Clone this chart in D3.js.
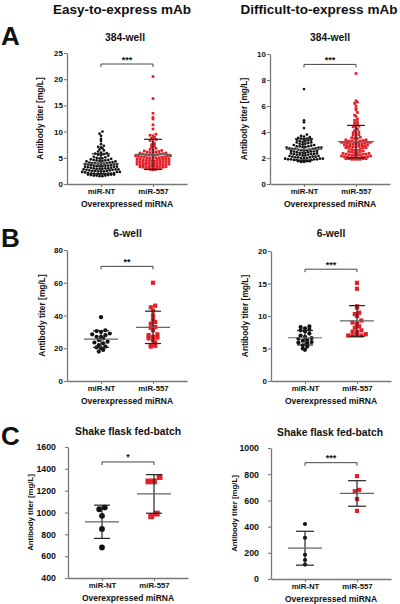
<!DOCTYPE html>
<html><head><meta charset="utf-8">
<script src="https://cdn.jsdelivr.net/npm/d3@7"></script>
<style>
body{margin:0;background:#fff}
svg{display:block}
text{font-family:Arial,"Liberation Sans",Helvetica,sans-serif;font-weight:bold;fill:#111}
</style>
</head><body>
<svg id="chart" width="400" height="604"></svg>
<script>
// ---------------- data ----------------
const groups = ["miR-NT", "miR-557"];
const columnTitles = ["Easy-to-express mAb", "Difficult-to-express mAb"];
const panelLetters = ["A", "B", "C"];
const panelTitles = ["384-well", "384-well", "6-well", "6-well", "Shake flask fed-batch", "Shake flask fed-batch"];
const yAxisLabel = "Antibody titer [mg/L]";
const xAxisLabel = "Overexpressed miRNA";

// A: 384-well, easy-to-express
const aEasyNT = [10.0, 9.6, 9.2, 8.6, 8.2, 7.6, 7.3, 7.1, 7.0, 6.8, 6.6, 6.4, 6.2, 6.0, 5.9, 5.8, 5.7, 5.6, 5.5, 5.4,
  5.2, 5.1, 5.0, 4.9, 4.9, 4.8,
  4.7, 4.6, 4.6, 4.5, 4.5, 4.4, 4.4, 4.3, 4.3, 4.2,
  4.1, 4.1, 4.0, 4.0, 4.0, 3.9, 3.9, 3.9, 3.8, 3.8, 3.8, 3.7,
  3.6, 3.6, 3.5, 3.5, 3.5, 3.4, 3.4, 3.4, 3.3, 3.3, 3.3, 3.2,
  3.1, 3.1, 3.0, 3.0, 3.0, 2.9, 2.9, 2.9, 2.8, 2.8, 2.8, 2.7, 2.7,
  2.6, 2.6, 2.5, 2.5, 2.5, 2.4, 2.4, 2.4, 2.3, 2.3, 2.3, 2.2,
  2.1, 2.1, 2.0, 2.0, 2.0, 2.0, 1.9, 1.9, 1.9, 1.9, 1.8, 1.8, 1.8, 1.7,
  1.7, 1.6, 1.6, 1.6, 1.5, 1.5];
const aEasy557 = [20.5, 16.3, 13.5, 12.7, 12.4, 11.3, 10.5, 9.5, 9.3, 9.2, 8.9, 8.7, 8.5, 8.3, 8.0, 7.7, 7.5, 7.2, 7.0, 6.8, 6.6, 6.5,
  6.4, 6.3, 6.2, 6.1, 6.1, 6.0, 6.0, 5.9, 5.9, 5.8,
  5.7, 5.7, 5.6, 5.6, 5.5, 5.5, 5.5, 5.4, 5.4, 5.3, 5.3, 5.2, 5.2,
  5.1, 5.1, 5.0, 5.0, 5.0, 4.9, 4.9, 4.8, 4.8, 4.8, 4.7, 4.7, 4.6,
  4.6, 4.5, 4.5, 4.5, 4.4, 4.4, 4.3, 4.3, 4.3, 4.2, 4.2, 4.1, 4.1,
  4.0, 4.0, 4.0, 3.9, 3.9, 3.8, 3.8, 3.8, 3.7, 3.7, 3.6, 3.6, 3.6,
  3.5, 3.5, 3.4, 3.4, 3.3, 3.3, 3.2, 3.2, 3.1, 3.1, 3.0,
  3.0, 2.9, 2.9, 2.8, 2.8, 2.7];
// A: 384-well, difficult-to-express
const aDiffNT = [7.3, 4.9, 4.75, 4.3, 3.8, 3.7, 3.65, 3.6, 3.55, 3.5, 3.5, 3.45, 3.4, 3.4, 3.35, 3.3, 3.3, 3.25, 3.2, 3.2, 3.15, 3.1, 3.1, 3.05, 3.0, 3.0,
  2.95, 2.9, 2.9, 2.9, 2.85, 2.85, 2.8, 2.8, 2.8, 2.75, 2.75, 2.7, 2.7, 2.7,
  2.65, 2.65, 2.6, 2.6, 2.6, 2.55, 2.55, 2.5, 2.5, 2.5, 2.45, 2.45,
  2.4, 2.4, 2.4, 2.35, 2.35, 2.3, 2.3, 2.3, 2.25, 2.25, 2.25,
  2.2, 2.2, 2.15, 2.15, 2.1, 2.1, 2.1, 2.05, 2.05, 2.05, 2.0, 2.0, 2.0,
  1.95, 1.95, 1.95, 1.9, 1.9, 1.9, 1.9, 1.85, 1.85, 1.85, 1.8, 1.8, 1.8, 1.8, 1.75, 1.75, 1.75, 1.7, 1.7];
const aDiff557 = [8.5, 6.4, 6.3, 6.2, 6.0, 5.8, 5.7, 5.5, 5.3, 5.2, 5.0, 4.9, 4.8, 4.7, 4.6, 4.5, 4.45, 4.4, 4.3, 4.2, 4.1, 4.0, 3.95, 3.9, 3.8, 3.75, 3.7, 3.6, 3.55, 3.5, 3.5, 3.4, 3.4,
  3.35, 3.3, 3.3, 3.3, 3.25, 3.25, 3.2, 3.2, 3.2, 3.2, 3.15, 3.15, 3.1, 3.1, 3.1, 3.05, 3.05, 3.0, 3.0,
  2.95, 2.95, 2.9, 2.9, 2.9, 2.85, 2.85, 2.8, 2.8, 2.8, 2.75, 2.7,
  2.65, 2.6, 2.6, 2.55, 2.5, 2.5, 2.45,
  2.4, 2.4, 2.35, 2.35, 2.3, 2.3, 2.3, 2.25, 2.25, 2.2, 2.2, 2.2, 2.15, 2.15, 2.1, 2.1,
  2.05, 2.05, 2.05, 2.0, 2.0, 2.0, 2.0, 1.95, 1.95, 1.95, 1.95, 1.9, 1.9, 1.9, 1.9];
// B: 6-well
const bEasyNT = [39, 31, 30.5, 30, 29, 28.5, 28, 27, 27, 26, 25, 24, 23.5, 23, 22, 21, 20.5, 20, 19, 18];
const bEasy557 = [60, 46, 45, 43, 40, 37.5, 36, 35, 33, 32.5, 31, 28.5, 28, 27, 26.5, 26, 25, 23.5, 22, 21.5, 21];
const bDiffNT = [8.4, 8.3, 8.1, 7.9, 7.8, 7.6, 7.3, 7.0, 6.8, 6.6, 6.5, 6.3, 6.2, 6.0, 5.9, 5.8, 5.5, 5.3, 5.0, 4.8];
const bDiff557 = [15.1, 14.2, 11.5, 11.3, 10.5, 10.3, 10.0, 9.3, 9.0, 8.8, 8.4, 8.2, 7.8, 7.6, 7.5, 7.2, 7.0, 7.0, 7.0, 7.0];
// C: shake flask fed-batch
const cEasyNT = [1045, 1030, 970, 850, 680];
const cEasy557 = [1325, 1285, 1285, 990, 965];
const cDiffNT = [420, 315, 185, 145, 110];
const cDiff557 = [785, 680, 670, 610, 520];

// axis tick values
const ticksA1 = [0, 5, 10, 15, 20, 25];
const ticksA2 = [0, 2, 4, 6, 8, 10];
const ticksB1 = [0, 20, 40, 60, 80];
const ticksB2 = [0, 5, 10, 15, 20];
const ticksC1 = [400, 600, 800, 1000, 1200, 1400, 1600];
const ticksC2 = [0, 200, 400, 600, 800, 1000];

// significance
const sigLabels = ["***", "***", "**", "***", "*", "***"];
const sigLevels = [22.9, 9.2, 70, 17.2, 1463, 888];

// ---------------- layout ----------------
const svg = d3.select("#chart");
const RED = "#e41e26", BLACK = "#111";

const layout = [
  {ax: 67, top: 53, bot: 184, tx: 125, ty: 41, lx: 39.5, r: 1.35, dx: 2.9, cap: 9, meanW: 18, tf: 8, tp: 1, lf: 8.4},
  {ax: 270, top: 54, bot: 184, tx: 330, ty: 41, lx: 243.5, r: 1.35, dx: 2.9, cap: 9, meanW: 18, tf: 8, tp: 1, lf: 8.4},
  {ax: 67, top: 250, bot: 381, tx: 127.5, ty: 237, lx: 41.5, r: 2.1, dx: 4.4, cap: 8, meanW: 17, tf: 8, tp: 1, lf: 8.4},
  {ax: 271, top: 251, bot: 381, tx: 331, ty: 237, lx: 244.5, r: 2.1, dx: 4.4, cap: 8, meanW: 17, tf: 8, tp: 1, lf: 8.4},
  {ax: 68, top: 447, bot: 578, tx: 128, ty: 435, lx: 30, r: 2.9, dx: 5.6, cap: 8, meanW: 17, tf: 8.8, tp: 9, lf: 7.8},
  {ax: 271, top: 448, bot: 579, tx: 330, ty: 436, lx: 234, r: 2.1, dx: 4.4, cap: 9, meanW: 17, tf: 8.8, tp: 9, lf: 7.8}
];
const panelData = [[aEasyNT, aEasy557], [aDiffNT, aDiff557], [bEasyNT, bEasy557], [bDiffNT, bDiff557], [cEasyNT, cEasy557], [cDiffNT, cDiff557]];
const panelTicks = [ticksA1, ticksA2, ticksB1, ticksB2, ticksC1, ticksC2];

// headers
svg.append("text").attr("x", 122).attr("y", 14).attr("text-anchor", "middle").attr("font-size", 13.5).text(columnTitles[0]);
svg.append("text").attr("x", 319).attr("y", 14).attr("text-anchor", "middle").attr("font-size", 13.5).text(columnTitles[1]);
const letterY = [45, 247, 445];
panelLetters.forEach((L, i) => svg.append("text").attr("x", 1).attr("y", letterY[i]).attr("font-size", 26).text(L));

panelData.forEach((pd, i) => {
  const L = layout[i];
  const ticks = panelTicks[i];
  const g = svg.append("g");
  const y = d3.scaleLinear().domain(d3.extent(ticks)).range([L.bot, L.top]);
  const x = d3.scalePoint().domain(groups).range([L.ax, L.ax + 120]).padding(((120 / 52) - 1) / 2);

  // title
  g.append("text").attr("x", L.tx).attr("y", L.ty).attr("text-anchor", "middle").attr("font-size", 10.3).text(panelTitles[i]);

  // axes
  const yAx = g.append("g").attr("transform", `translate(${L.ax},0)`)
    .call(d3.axisLeft(y).tickValues(ticks).tickFormat(d3.format("d")).tickSize(3).tickSizeOuter(0).tickPadding(L.tp));
  const xAx = g.append("g").attr("transform", `translate(0,${L.bot})`)
    .call(d3.axisBottom(x).tickSize(3).tickSizeOuter(0).tickPadding(1));
  [yAx, xAx].forEach(a => {
    a.select(".domain").attr("stroke", "#777").attr("stroke-width", 1.3);
    a.selectAll(".tick line").attr("stroke", "#777").attr("stroke-width", 1.1);
    a.selectAll("text").attr("fill", "#111").attr("font-family", "Arial, 'Liberation Sans', sans-serif").attr("font-weight", "bold");
  });
  yAx.selectAll("text").attr("font-size", L.tf);
  xAx.selectAll("text").attr("font-size", 7.8);

  // axis labels
  g.append("text").attr("transform", `translate(${L.lx},${(L.top + L.bot) / 2}) rotate(-90)`)
    .attr("text-anchor", "middle").attr("dominant-baseline", "central").attr("font-size", L.lf).text(yAxisLabel);
  g.append("text").attr("x", L.ax + 60).attr("y", L.bot + 23).attr("text-anchor", "middle").attr("font-size", 8.5).text(xAxisLabel);

  // points (scatter dot plot with row binning)
  pd.forEach((vals, gi) => {
    const cx = x(groups[gi]);
    const col = gi === 0 ? BLACK : RED;
    const rowH = L.r * 2;
    const sorted = vals.slice().sort((a, b) => a - b);
    const bins = d3.groups(sorted, v => Math.round((L.bot - y(v)) / rowH));
    const pts = [];
    bins.forEach(([k, arr]) => {
      const n = arr.length;
      arr.forEach((v, j) => {
        let off;
        if (n % 2 === 1) off = j === 0 ? 0 : (j % 2 === 1 ? -1 : 1) * Math.ceil(j / 2);
        else off = (j % 2 === 0 ? -1 : 1) * (Math.floor(j / 2) + 0.5);
        pts.push({v, px: cx + off * L.dx});
      });
    });
    if (gi === 0) {
      g.append("g").selectAll("circle").data(pts).join("circle")
        .attr("cx", d => d.px).attr("cy", d => y(d.v)).attr("r", L.r).attr("fill", col);
    } else {
      g.append("g").selectAll("rect").data(pts).join("rect")
        .attr("x", d => d.px - L.r).attr("y", d => y(d.v) - L.r)
        .attr("width", L.r * 2).attr("height", L.r * 2).attr("fill", col);
    }
    // mean & SD
    const m = d3.mean(vals), sd = d3.deviation(vals);
    const eg = g.append("g").attr("fill", "none");
    eg.append("line").attr("x1", cx).attr("x2", cx).attr("y1", y(m - sd)).attr("y2", y(m + sd)).attr("stroke", "#222").attr("stroke-width", 1.2);
    [m - sd, m + sd].forEach(v => eg.append("line").attr("x1", cx - L.cap).attr("x2", cx + L.cap)
      .attr("y1", y(v)).attr("y2", y(v)).attr("stroke", "#222").attr("stroke-width", 1.2));
    eg.append("line").attr("x1", cx - L.meanW).attr("x2", cx + L.meanW).attr("y1", y(m)).attr("y2", y(m))
      .attr("stroke", "#666").attr("stroke-width", 1.2);
  });

  // significance bracket
  const by = y(sigLevels[i]);
  const x0 = x(groups[0]), x1 = x(groups[1]);
  g.append("path").attr("d", `M${x0},${by + 3}V${by}H${x1}V${by + 3}`).attr("fill", "none").attr("stroke", "#444").attr("stroke-width", 1);
  g.append("text").attr("x", (x0 + x1) / 2).attr("y", by - 1.5).attr("text-anchor", "middle").attr("font-size", 9).text(sigLabels[i]);
});
</script>
</body></html>
